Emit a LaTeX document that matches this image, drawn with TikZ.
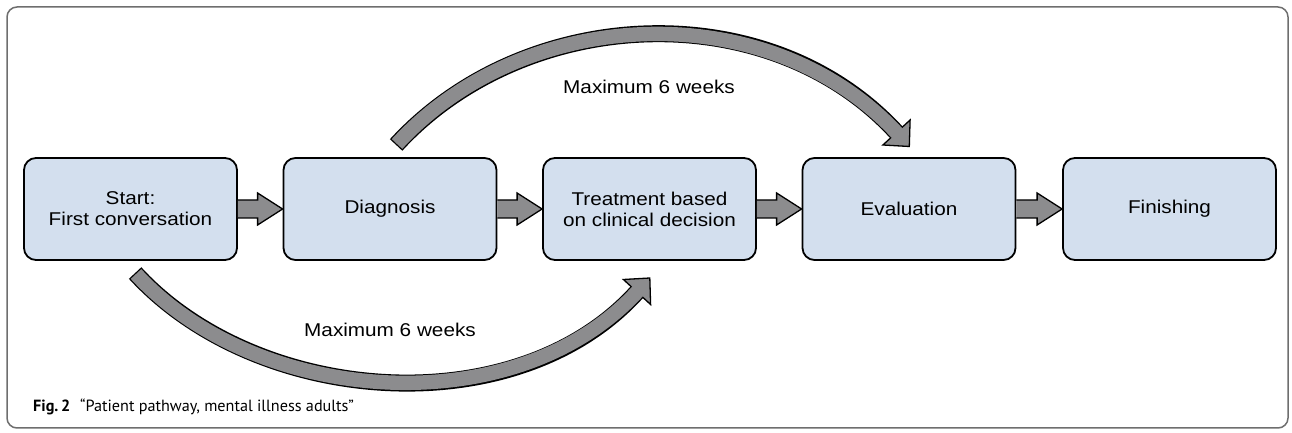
\documentclass[tikz,border=0pt]{standalone}
\usepackage{fontspec}
\setmainfont{Liberation Sans}
\newfontfamily\diagfont[FakeStretch=1.12]{Liberation Sans}
\newfontfamily\capfont{PT Sans}
\usetikzlibrary{calc}
\definecolor{boxblue}{RGB}{211,223,238}
\definecolor{arrowgray}{RGB}{140,140,142}
\definecolor{framegray}{RGB}{110,110,110}
\begin{document}
\begin{tikzpicture}[x=1pt,y=1pt,
  stage/.style={draw=black, line width=1.8pt, fill=boxblue, rounded corners=12pt,
    minimum width=213pt, minimum height=102pt, inner sep=0pt, align=center,
    font=\diagfont\fontsize{18.5}{21}\selectfont},
  blockarrow/.style={draw=black, line width=1.3pt, fill=arrowgray, line join=miter},
  bandout/.style={draw=black, line width=17pt},
  bandin/.style={draw=arrowgray, line width=14.4pt},
  lbl/.style={font=\diagfont\fontsize{18.5}{21}\selectfont, inner sep=0pt}
]
\useasboundingbox (0,0) rectangle (1292,433);
\draw[framegray, line width=1.5pt, rounded corners=10pt] (7,5) rectangle (1288,426);

\node[stage] (b1) at (130.5,224) {Start:\\First conversation};
\node[stage] (b2) at (390,224) {Diagnosis};
\node[stage] (b3) at (649.5,224) {Treatment based\\on clinical decision};
\node[stage] (b4) at (909,224) {Evaluation};
\node[stage] (b5) at (1169.5,224) {Finishing};

\foreach \a/\b in {b1/b2,b2/b3,b3/b4,b4/b5}{
  \draw[blockarrow] ($(\a.east)+(0,9)$) -- ($(\b.west)+(-25,9)$) -- ($(\b.west)+(-25,16)$)
    -- (\b.west) -- ($(\b.west)+(-25,-16)$) -- ($(\b.west)+(-25,-9)$) -- ($(\a.east)+(0,-9)$);
}

% top curved arrow (Diagnosis -> Evaluation)
\coordinate (ts) at (397,289);
\coordinate (tc1) at (524.8,428.3);
\coordinate (tc2) at (768.7,439.8);
\coordinate (te) at (896.5,300.5);
\coordinate (tw1) at (882.9,288);
\coordinate (tt) at (909.3,286.5);
\coordinate (tw2) at (910.1,313);
\draw[bandout, shorten <=-1.3pt] (ts) .. controls (tc1) and (tc2) .. (te);
\draw[blockarrow] (tw1) -- (tt) -- (tw2) -- cycle;
\draw[bandin, shorten >=-3pt] (ts) .. controls (tc1) and (tc2) .. (te);

% bottom curved arrow (Start -> Treatment)
\coordinate (bs) at (136,159);
\coordinate (bc1) at (257,27.1);
\coordinate (bc2) at (516,7.1);
\coordinate (be) at (637,141);
\coordinate (bw1) at (623.4,153.5);
\coordinate (bt) at (649.8,155);
\coordinate (bw2) at (650.6,128.5);
\draw[bandout, shorten <=-1.3pt] (bs) .. controls (bc1) and (bc2) .. (be);
\draw[blockarrow] (bw1) -- (bt) -- (bw2) -- cycle;
\draw[bandin, shorten >=-3pt] (bs) .. controls (bc1) and (bc2) .. (be);

\node[lbl] (l1) at (649,346) {Maximum 6 weeks};
\node[lbl] (l2) at (390,103) {Maximum 6 weeks};

\node[anchor=west, inner sep=0pt, font=\capfont\fontsize{16.2}{18}\selectfont] (cap) at (33,26)
  {\textbf{Fig.\,2}\hspace{0.6em}“Patient pathway, mental illness adults”};
\end{tikzpicture}
\end{document}
